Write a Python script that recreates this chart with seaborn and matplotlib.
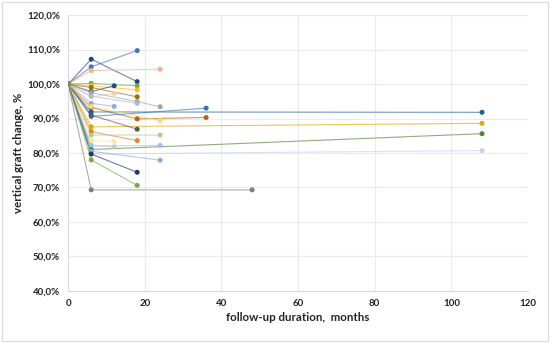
import pandas as pd
import numpy as np
import matplotlib
matplotlib.use("Agg")
import matplotlib.pyplot as plt
import seaborn as sns
from matplotlib.ticker import FuncFormatter

# ------------------------------------------
# Data: follow-up months and graft height (%) for each case
# ------------------------------------------

case_months = [
    [0, 6, 18], [0, 6, 18], [0, 6, 24], [0, 6, 18], [0, 6, 18],
    [0, 6, 12], [0, 6, 18], [0, 6, 12], [0, 6, 18, 24], [0, 6, 12],
    [0, 6, 18], [0, 6, 18, 36], [0, 6, 108], [0, 6, 36], [0, 6, 108],
    [0, 6, 18], [0, 6, 24], [0, 6, 18], [0, 6, 24], [0, 6, 12],
    [0, 6, 12], [0, 6, 24], [0, 6, 108], [0, 6, 108], [0, 6, 24],
    [0, 6, 18], [0, 6, 18], [0, 6, 48],
]

case_values = [
    [100, 107.2, 100.7], [100, 105.0, 109.7], [100, 103.9, 104.3], [100, 100.2, 99.5], [100, 99.5, 98.3],
    [100, 97.8, 99.5], [100, 99.0, 96.3], [100, 96.3, 97.3], [100, 97.5, 94.9, 93.4], [100, 94.4, 93.5],
    [100, 96.5, 94.4], [100, 93.2, 89.9, 90.3], [100, 91.9, 91.8], [100, 90.6, 93.0], [100, 87.6, 88.6],
    [100, 91.0, 86.9], [100, 93.5, 89.4], [100, 86.2, 83.6], [100, 85.2, 85.2], [100, 83.6, 83.3],
    [100, 82.3, 81.8], [100, 82.0, 82.2], [100, 81.0, 85.6], [100, 79.7, 80.7], [100, 80.5, 77.9],
    [100, 79.7, 74.4], [100, 78.0, 70.6], [100, 69.3, 69.3],
]

case_colors = [
    "#264478", "#4472C4", "#F4B183", "#70AD47", "#FFC000",
    "#1F4E79", "#997300", "#F8CBAD", "#A5A5A5", "#8FAADC",
    "#ADB9CA", "#C55A11", "#255E91", "#2E75B6", "#E0A800",
    "#595959", "#FFD966", "#ED7D31", "#A9D18E", "#FFE699",
    "#C9C9C9", "#9DC3E6", "#548235", "#BDD7EE", "#8FAADC",
    "#1F3864", "#70AD47", "#7F7F7F",
]

rows = []
for i, (m, v) in enumerate(zip(case_months, case_values)):
    for month, val in zip(m, v):
        rows.append({"case": i, "month": month, "value": val})
df = pd.DataFrame(rows)

# ------------------------------------------
# Plot
# ------------------------------------------

sns.set_style("white")
plt.rcParams["font.family"] = ["Lato", "DejaVu Sans"]

fig = plt.figure(figsize=(5.5, 3.43), dpi=100)
ax = fig.add_axes([0.124, 0.152, 0.836, 0.804])

sns.lineplot(
    data=df, x="month", y="value", hue="case",
    palette=case_colors, legend=False, sort=False,
    linewidth=0.8, alpha=0.65, ax=ax,
)
sns.scatterplot(
    data=df, x="month", y="value", hue="case",
    palette=case_colors, legend=False, s=13,
    linewidth=0, ax=ax, zorder=3,
)

ax.set_xlim(0, 120)
ax.set_ylim(40, 120)
ax.set_xticks(np.arange(0, 121, 20))
ax.set_yticks(np.arange(40, 121, 10))
ax.yaxis.set_major_formatter(FuncFormatter(lambda v, p: f"{v:.1f}%".replace(".", ",")))
ax.grid(True, color="#ebebeb", linewidth=0.8)
ax.tick_params(length=0, labelsize=7, pad=6, colors="#222222")
for lab in ax.get_xticklabels() + ax.get_yticklabels():
    lab.set_fontweight("bold")

for side in ["top", "right"]:
    ax.spines[side].set_visible(False)
for side in ["left", "bottom"]:
    ax.spines[side].set_color("#d9d9d9")
    ax.spines[side].set_linewidth(0.8)

ax.set_xlabel("follow-up duration,  months", fontsize=8.3, fontweight="bold", labelpad=3)
ax.set_ylabel("vertical graft change, %", fontsize=8.3, fontweight="bold", labelpad=2)

# chart area border
fig.patches.append(plt.Rectangle((0.003, 0.005), 0.994, 0.99, transform=fig.transFigure,
                                 fill=False, edgecolor="#d9d9d9", linewidth=0.8))

fig.savefig("out.png", dpi=100)
